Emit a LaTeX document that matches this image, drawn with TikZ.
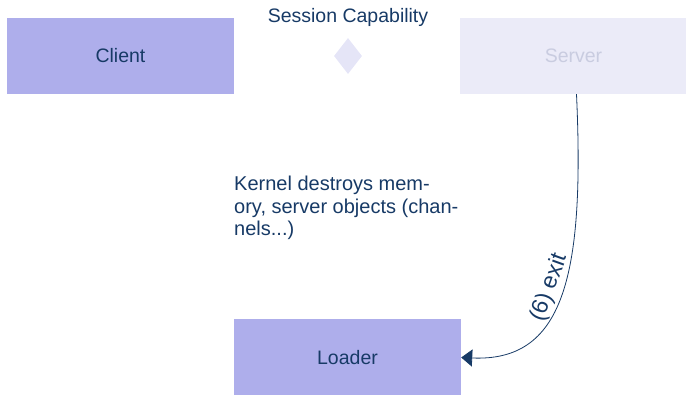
\documentclass[tikz,border=0pt]{standalone}
\usepackage{fontspec}
\setmainfont{Liberation Sans}
\usepackage{tikz}
\usetikzlibrary{
    arrows.meta,
    positioning,
    shapes.geometric,
}
\definecolor{boxblue}{HTML}{AEAEEB}
\definecolor{boxpale}{HTML}{EBEBF8}
\definecolor{navy}{HTML}{173A66}
\definecolor{paletext}{HTML}{C9CCE0}
\tikzset{
    proc/.style={rectangle, fill=boxblue, minimum width=227pt, minimum height=76pt,
        inner sep=0pt, text=navy, font=\fontsize{19.5}{22}\selectfont},
    deadproc/.style={proc, fill=boxpale, text=paletext},
    exitarrow/.style={draw=navy, line width=0.8pt, -{Triangle[length=11pt, width=17pt]}},
}
\begin{document}
\begin{tikzpicture}[x=1pt, y=-1pt]
            \useasboundingbox (0,0) rectangle (686,395);
            \node[proc] (client) at (120.5,56) {Client};
            \node[deadproc] (server) at (573.5,56) {Server};
            \node[diamond, fill=boxpale!90!boxblue, minimum width=28pt, minimum height=36pt, inner sep=0pt] (cap) at (348,56) {};
            \node[text=navy, font=\fontsize{19.5}{22}\selectfont] (caplabel) at (348,17) {Session Capability};
            \node[proc] (loader) at (347.5,357.5) {Loader};
            \node[text=navy, font=\fontsize{20}{22.5}\selectfont, align=left, anchor=north west, inner sep=0pt] (note) at (234,176) {Kernel destroys mem-\\ory, server objects (chan-\\nels...)};
            \draw[exitarrow] ([xshift=3pt]server.south) .. controls (585,280) and (562,362) .. (loader.east)
                node[pos=0.48, sloped, above, inner sep=2pt, text=navy, font=\fontsize{23}{26}\selectfont] {(6) exit};
        \end{tikzpicture}
\end{document}
